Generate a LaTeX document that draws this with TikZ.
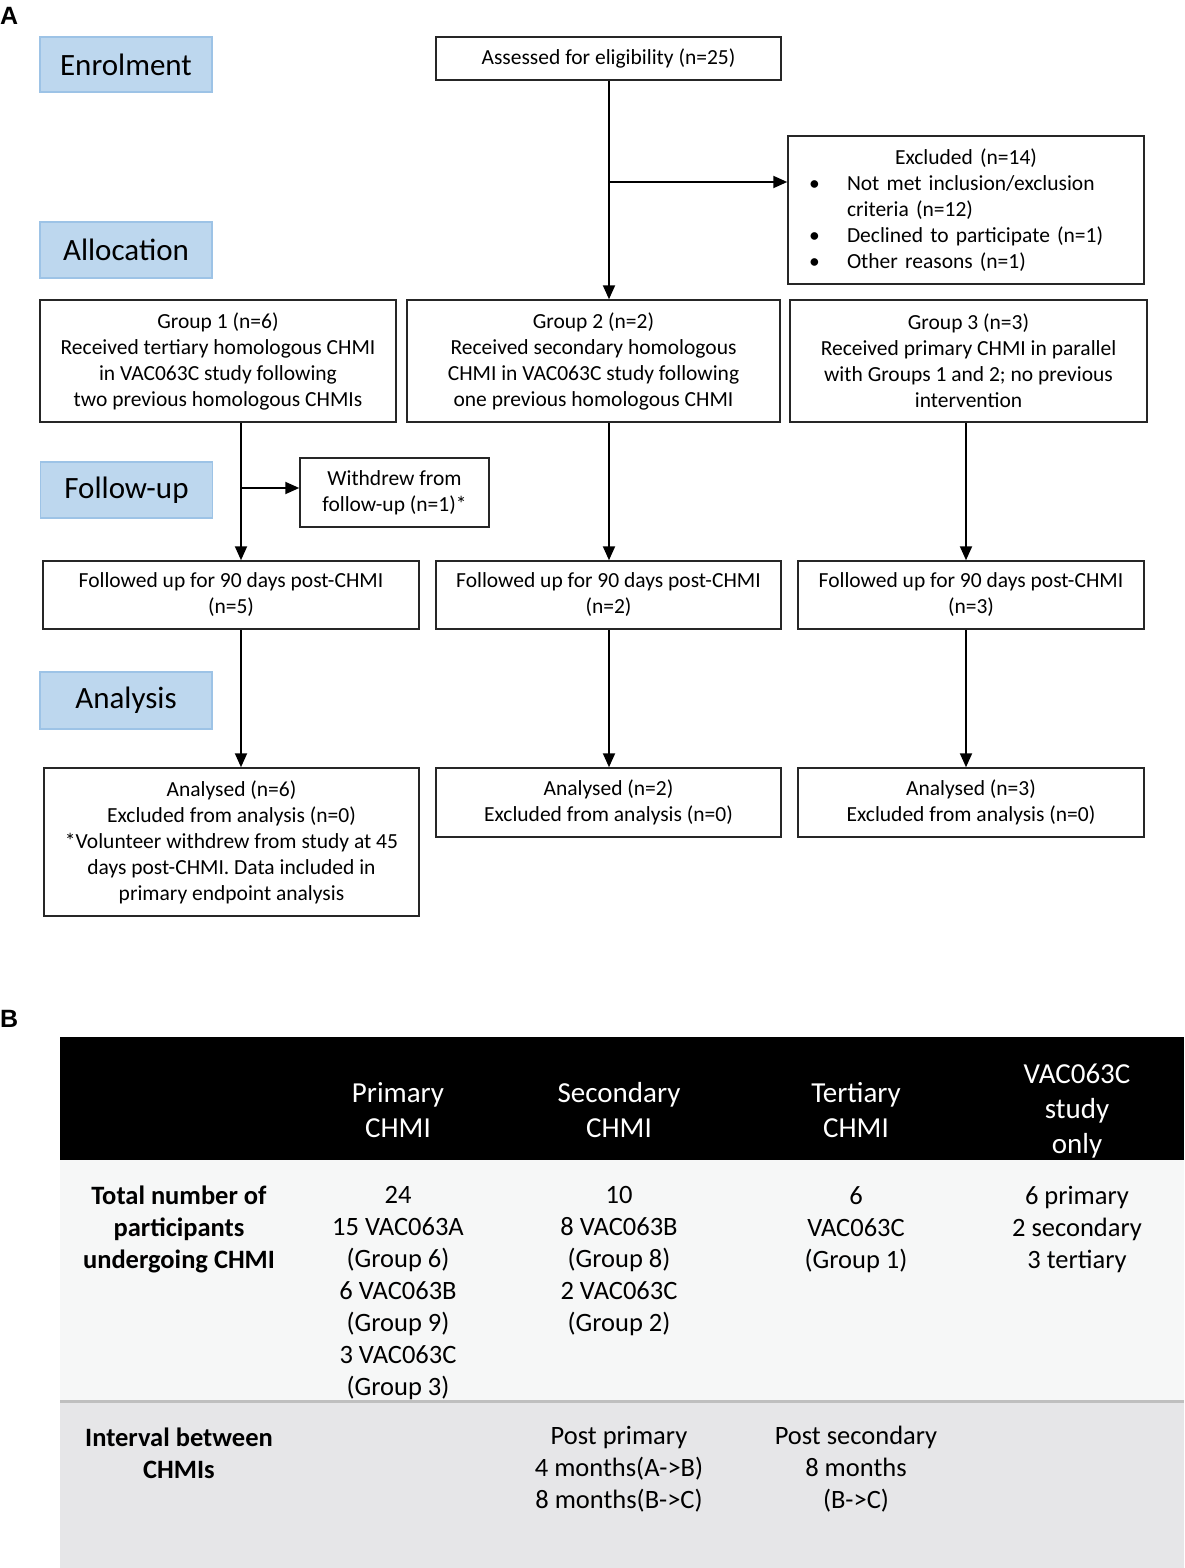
\documentclass[tikz,border=0pt]{standalone}
\usepackage{fontspec}
\setmainfont{Carlito}
\newfontfamily\labelfont{Liberation Sans}
\usetikzlibrary{arrows.meta}
\definecolor{stagefill}{HTML}{BDD7EE}
\definecolor{stagedraw}{HTML}{9DC3E6}
\definecolor{rowone}{HTML}{F6F7F7}
\definecolor{rowtwo}{HTML}{E6E6E8}
\definecolor{sepgray}{HTML}{BFBFBF}
\newcommand\fsbox{\fontsize{21.5}{26}\selectfont}
\newcommand\fsstage{\fontsize{31}{36}\selectfont}
\newcommand\fshead{\fontsize{29}{35}\selectfont}
\newcommand\fsbody{\fontsize{26.5}{32}\selectfont}
\tikzset{
  box/.style={draw=black!85, line width=1.5pt, fill=white, align=center, inner sep=0pt, font=\fsbox},
  stage/.style={draw=stagedraw, line width=1.5pt, fill=stagefill, inner sep=0pt, font=\fsstage, minimum width=172pt},
  arr/.style={line width=2pt, -{Triangle[length=14pt,width=12pt]}},
  thead/.style={text=white, align=center, inner sep=0pt, font=\fshead},
  tbody/.style={text=black, align=center, inner sep=0pt, font=\fsbody},
  tlabel/.style={text=black, align=center, inner sep=0pt, font=\fsbody\bfseries},
  panel/.style={inner sep=0pt, anchor=north west, font=\labelfont\bfseries\fontsize{25}{28}\selectfont}
}
\begin{document}
\begin{tikzpicture}[x=1pt,y=-1pt]
\useasboundingbox[fill=white] (0,0) rectangle (1184,1568);
% panel labels
\node[panel] (lA) at (0,7) {A};
\node[panel] (lB) at (0,1010) {B};
% stage labels
\node[stage, minimum height=55pt] (enrol) at (126,64.5) {Enrolment};
\node[stage, minimum height=56pt] (alloc) at (126,250) {Allocation};
\node[stage, minimum height=56pt] (follow) at (126.5,490) {Follow-up};
\node[stage, minimum height=57pt] (analysis) at (126,700.5) {Analysis};
% boxes
\node[box, minimum width=345pt, minimum height=43pt] (assess) at (608.5,58.5) {Assessed for eligibility (n=25)};
\node[box, minimum width=356pt, minimum height=148pt, text width=314pt, inner xsep=21pt, align=left] (excl) at (966,210)
 {\makebox[314pt][c]{Excluded (n=14)}\\
  \makebox[38pt][l]{\textbullet}Not met inclusion/exclusion\\
  \hspace*{38pt}criteria (n=12)\\
  \makebox[38pt][l]{\textbullet}Declined to participate (n=1)\\
  \makebox[38pt][l]{\textbullet}Other reasons (n=1)};
\node[box, minimum width=356pt, minimum height=122pt] (g1) at (218,361)
 {Group 1 (n=6)\\Received tertiary homologous CHMI\\in VAC063C study following\\two previous homologous CHMIs};
\node[box, minimum width=373pt, minimum height=122pt] (g2) at (593.5,361)
 {Group 2 (n=2)\\Received secondary homologous\\CHMI in VAC063C study following\\one previous homologous CHMI};
\node[box, minimum width=357pt, minimum height=122pt] (g3) at (968.5,361)
 {Group 3 (n=3)\\Received primary CHMI in parallel\\with Groups 1 and 2; no previous\\intervention};
\node[box, minimum width=189pt, minimum height=69pt] (wd) at (394.5,492.5) {Withdrew from\\follow-up (n=1)*};
\node[box, minimum width=376pt, minimum height=68pt] (fu1) at (231,595) {Followed up for 90 days post-CHMI\\(n=5)};
\node[box, minimum width=345pt, minimum height=68pt] (fu2) at (608.5,595) {Followed up for 90 days post-CHMI\\(n=2)};
\node[box, minimum width=346pt, minimum height=68pt] (fu3) at (971,595) {Followed up for 90 days post-CHMI\\(n=3)};
\node[box, minimum width=375pt, minimum height=148pt] (an1) at (231.5,842)
 {Analysed (n=6)\\Excluded from analysis (n=0)\\*Volunteer withdrew from study at 45\\days post-CHMI. Data included in\\primary endpoint analysis};
\node[box, minimum width=345pt, minimum height=69pt] (an2) at (608.5,802.5) {Analysed (n=2)\\Excluded from analysis (n=0)};
\node[box, minimum width=346pt, minimum height=69pt] (an3) at (971,802.5) {Analysed (n=3)\\Excluded from analysis (n=0)};
% connectors
\coordinate (c1) at (241,0);
\coordinate (c2) at (609,0);
\coordinate (c3) at (966,0);
\coordinate (b1) at (609,182);
\coordinate (b2) at (241,488);
\draw[arr] (assess.south -| c2) -- (g2.north -| c2);
\draw[arr] (b1) -- (b1 -| excl.west);
\draw[arr] (g1.south -| c1) -- (fu1.north -| c1);
\draw[arr] (b2) -- (b2 -| wd.west);
\draw[arr] (g2.south -| c2) -- (fu2.north -| c2);
\draw[arr] (g3.south -| c3) -- (fu3.north -| c3);
\draw[arr] (fu1.south -| c1) -- (an1.north -| c1);
\draw[arr] (fu2.south -| c2) -- (an2.north -| c2);
\draw[arr] (fu3.south -| c3) -- (an3.north -| c3);
% table
\fill[black] (60,1037) rectangle (1184,1160);
\fill[rowone] (60,1160) rectangle (1184,1401);
\fill[rowtwo] (60,1401) rectangle (1184,1568);
\draw[sepgray, line width=3pt] (60,1401) -- (1184,1401);
\node[thead] (h1) at (398,1110) {Primary\\CHMI};
\node[thead] (h2) at (619,1110) {Secondary\\CHMI};
\node[thead] (h3) at (856,1110) {Tertiary\\CHMI};
\node[thead] (h4) at (1077,1111) {VAC063C\\study\\only};
\node[tlabel] (r1) at (179,1229) {Total number of\\participants\\undergoing CHMI};
\node[tbody] (r1c1) at (398,1293) {24\\15 VAC063A\\(Group 6)\\6 VAC063B\\(Group 9)\\3 VAC063C\\(Group 3)};
\node[tbody] (r1c2) at (619,1261.5) {10\\8 VAC063B\\(Group 8)\\2 VAC063C\\(Group 2)};
\node[tbody] (r1c3) at (856,1229.5) {6\\VAC063C\\(Group 1)};
\node[tbody] (r1c4) at (1077,1229.5) {6 primary\\2 secondary\\3 tertiary};
\node[tlabel] (r2) at (179,1453) {Interval between\\CHMIs};
\node[tbody] (r2c2) at (619,1469.5) {Post primary\\4 months(A->B)\\8 months(B->C)};
\node[tbody] (r2c3) at (856,1469.5) {Post secondary\\8 months\\(B->C)};
\end{tikzpicture}
\end{document}
